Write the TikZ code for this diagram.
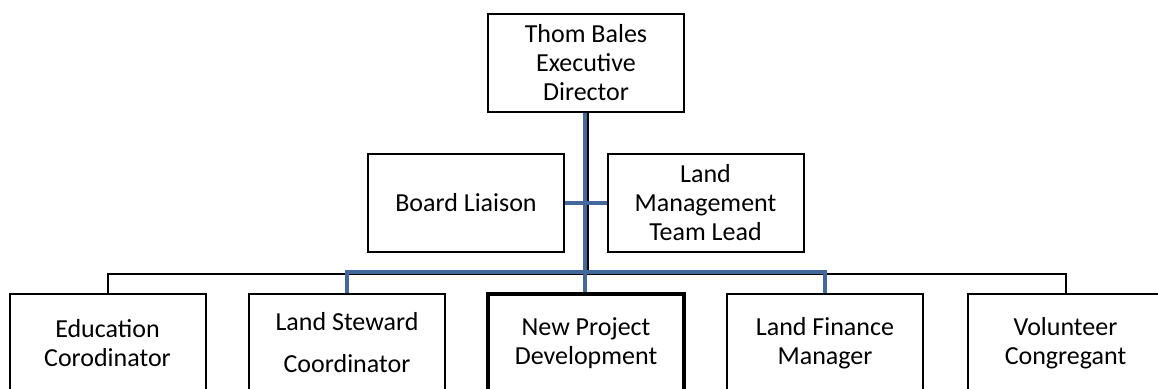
\documentclass[tikz,border=0pt]{standalone}
\usepackage{fontspec}
\setmainfont{Carlito}
\usepackage{tikz}
\usepackage{xcolor}
\definecolor{linkblue}{RGB}{66,104,156}

\begin{document}
\begin{tikzpicture}[x=0.5pt,y=-0.5pt,
    box/.style={draw,line width=1pt,fill=white,minimum width=98pt,minimum height=49pt,
        align=center,font=\fontsize{13}{14.5}\selectfont,inner sep=2pt},
    blackline/.style={line width=1pt},
    blueline/.style={line width=1.8pt,draw=linkblue}]
                    \clip (0,0) rectangle (1158,388);
                    \node[box] (dir) at (586,62.5) {Thom Bales\\Executive\\Director};
                    \node[box] (board) at (466,203) {Board Liaison};
                    \node[box] (landmgmt) at (705.5,203) {Land\\Management\\Team Lead};
                    \node[box] (edu) at (107.5,343) {Education\\Corodinator};
                    \node[box] (steward) at (347,343) {Land Steward\\[6.5pt]Coordinator};
                    \node[box,line width=1.6pt] (newproj) at (586,343) {New Project\\Development};
                    \node[box] (finance) at (825,343) {Land Finance\\Manager};
                    \node[box] (volunteer) at (1065.5,343) {Volunteer\\Congregant};
                    \coordinate (bus) at ([xshift=0.75pt]dir.south |- 0,273.5);
                    \coordinate (bluebus) at (dir.south |- 0,272);
                    \draw[blackline] ([xshift=0.75pt]dir.south) -- (bus) -| (volunteer.north);
                    \draw[blackline] (bus) -| (edu.north);
                    \draw[blueline] (steward.north) |- (bluebus) -| (finance.north);
                    \draw[blueline] ([xshift=-0.5pt]dir.south) -- ([xshift=-0.5pt]newproj.north);
                    \draw[blueline] (board) -- (landmgmt);
                \end{tikzpicture}
\end{document}
